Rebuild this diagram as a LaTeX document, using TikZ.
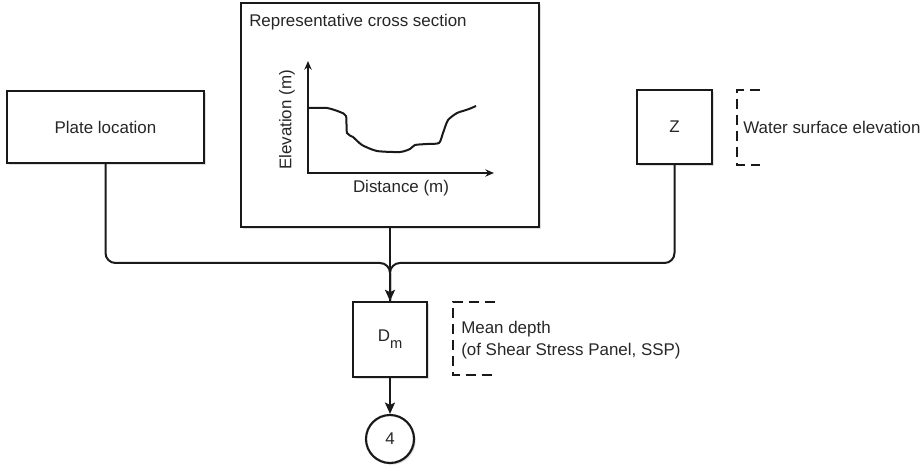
\documentclass[tikz,border=0pt]{standalone}
\usepackage{fontspec}
\setmainfont{Liberation Sans}
\usetikzlibrary{arrows.meta,shadows}

\begin{document}
\begin{tikzpicture}[x=0.75pt,y=-0.75pt,>={Stealth[length=8.5pt,width=7.5pt,inset=1.8pt]},
  font=\fontsize{12.7}{16.5}\selectfont,
  block/.style={draw=black!90,line width=1.6pt,fill=white,inner sep=0pt,text=black!85,
    drop shadow={shadow xshift=1.3pt,shadow yshift=-1.3pt,opacity=0.25}},
  link/.style={draw=black!90,line width=1.5pt},
  bracket/.style={draw=black!90,line width=1.5pt,dash pattern=on 7.5pt off 4.5pt},
  note/.style={anchor=west,align=left,inner sep=0pt,text=black!85}]
  \useasboundingbox (0,0) rectangle (923,466);

  % input blocks
  \node[block,minimum width=147.75pt,minimum height=54pt] (plate) at (105.5,127) {Plate location};
  \node[block,minimum width=223.5pt,minimum height=168pt] (section) at (390,115) {};
  \node[block,minimum width=56pt,minimum height=55.5pt] (wsz) at (674.5,127) {Z};
  \node[note] (sectitle) at (249,22) {Representative cross section};

  % cross section sketch
  \draw[line width=1.2pt,black!90,{Stealth[length=6.5pt,width=5.5pt]}-{Stealth[length=6.5pt,width=5.5pt]}] (308,61) -- (308,173) -- (494,173);
  \draw[line width=1.5pt,black!90,line join=round] plot[smooth,tension=0.4] coordinates {
    (308,108) (327,108) (340,112) (346,116) (347,133) (353,137) (362,145) (377,151)
    (400,152) (410,149) (415,145) (427,144) (439,143) (443,133) (448,120) (457,113)
    (463,111) (469,109) (476,106)};
  \node[rotate=90,inner sep=0pt,text=black!85] (elev) at (287,120) {Elevation (m)};
  \node[inner sep=0pt,text=black!85] (dist) at (401,188) {Distance (m)};

  % mean depth and output
  \node[block,minimum width=55.5pt,minimum height=56pt] (dm) at (390,339.5)
    {D\raisebox{-5.5pt}{\fontsize{11}{12}\selectfont m}};
  \node[block,circle,minimum size=36pt,drop shadow={opacity=0}] (four) at (390,439) {4};

  \coordinate (join) at (390,263);
  \draw[link,rounded corners=7.5pt] (plate.south) |- (join) -- (dm.north);
  \draw[link,rounded corners=7.5pt] (wsz.south) |- (join) -- (dm.north);
  \draw[link,->] (section.south) -- (dm.north);
  \draw[link,->] (dm.south) -- (four.north);

  % notes
  \draw[bracket] (760,90) -- (737,90) -- (737,165) -- (760,165);
  \node[note] (wsnote) at (743,127) {Water surface elevation};
  \draw[bracket] (495,302) -- (453,302) -- (453,375) -- (495,375);
  \node[note] (dmnote) at (461,340) {Mean depth\\(of Shear Stress Panel, SSP)};
\end{tikzpicture}
\end{document}
